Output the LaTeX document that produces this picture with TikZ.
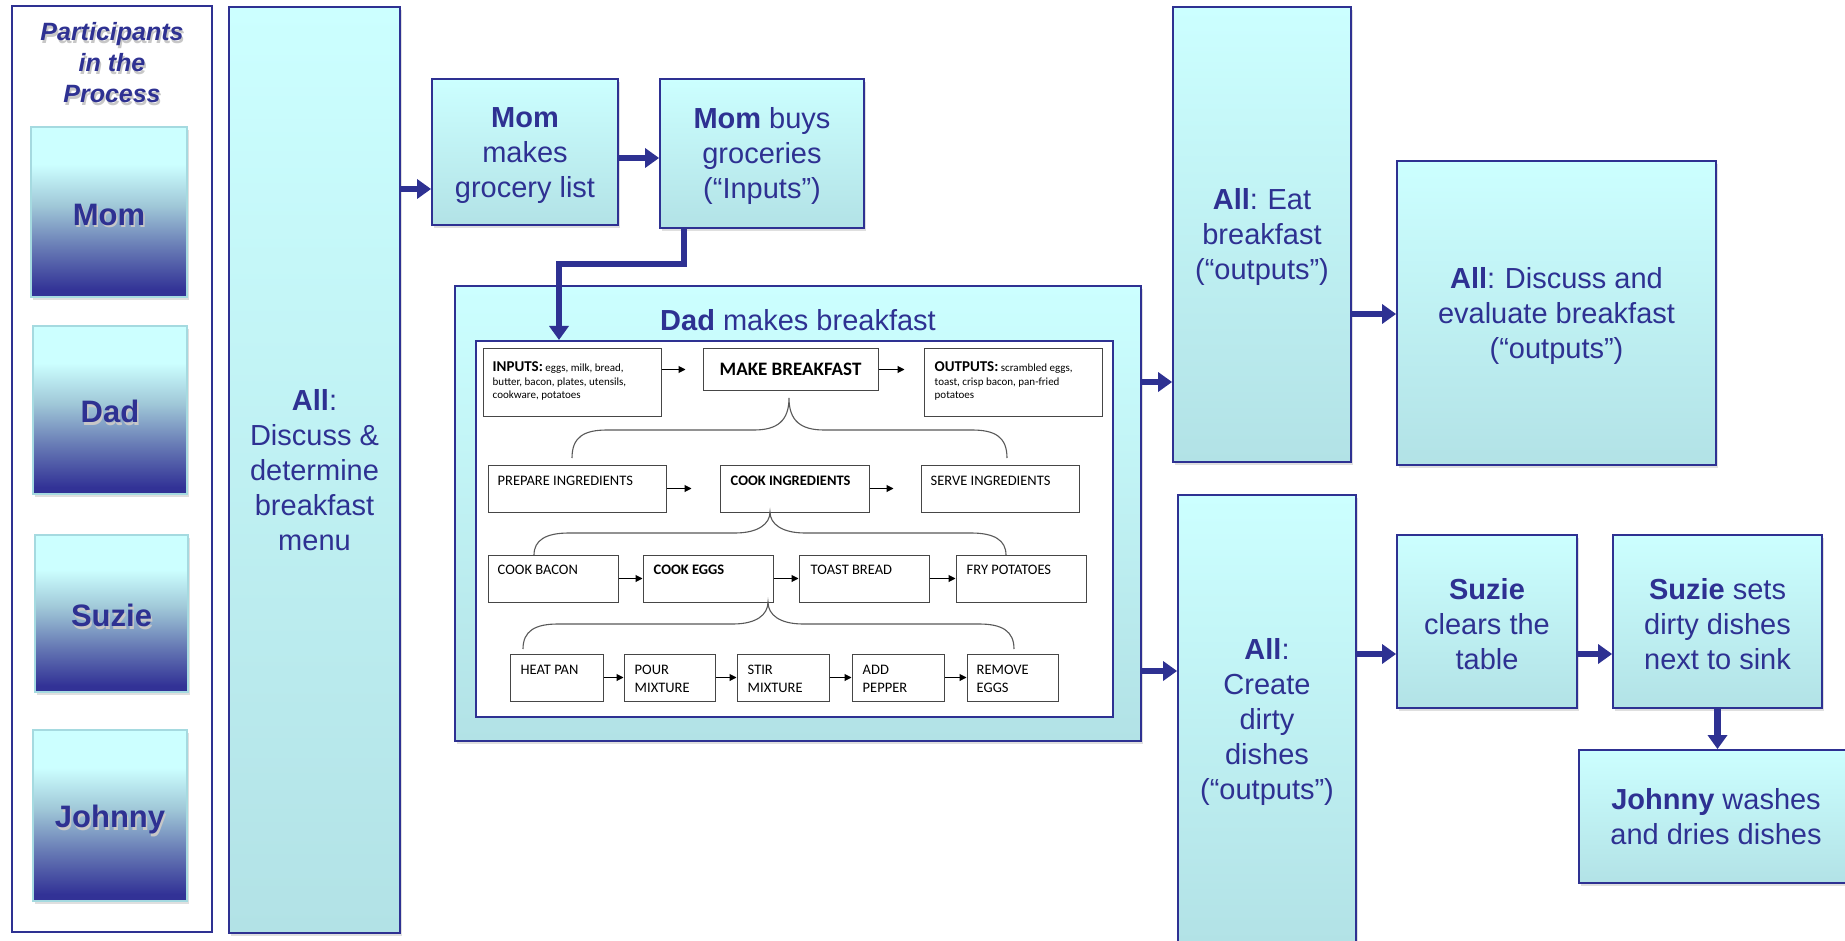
\documentclass[tikz,border=0pt]{standalone}
\usepackage{fontspec}
\newfontfamily\arialfont{Liberation Sans}
\newfontfamily\califont{Carlito}
\usetikzlibrary{arrows.meta,shadows,calc}
\definecolor{navy}{RGB}{46,49,146}
\definecolor{cytop}{RGB}{204,255,255}
\definecolor{cybot}{RGB}{178,226,230}
\definecolor{pmid}{RGB}{160,200,216}
\definecolor{pmidb}{RGB}{105,125,182}
\definecolor{pdark}{RGB}{50,50,150}
\definecolor{pborder}{RGB}{165,218,224}
\definecolor{innerline}{RGB}{70,70,70}
\pgfdeclareverticalshading{pshade}{100bp}{color(0bp)=(pdark); color(27bp)=(pdark); color(40bp)=(pmidb); color(52bp)=(pmid); color(64bp)=(cytop); color(100bp)=(cytop)}
\newcommand\shd[1]{\leavevmode\rlap{\kern1.5pt\raisebox{-2.5pt}{\textcolor{black!22}{#1}}}#1}
\newcommand\tp[1][27pt]{\rule{0pt}{#1}}
\newcommand\curlyb[6]{%
  \draw[brc] (#4,#6) .. controls (#4,{#3+7}) and ({#4+12},#3) .. ({#4+35},#3)
    -- ({#1-35},#3) .. controls ({#1-12},#3) and (#1,{#3-9}) .. (#1,#2)
    .. controls (#1,{#3-9}) and ({#1+12},#3) .. ({#1+35},#3)
    -- ({#5-35},#3) .. controls ({#5-12},#3) and (#5,{#3+7}) .. (#5,#6);}
\tikzset{
  cbox/.style={draw=navy, line width=1.8pt, top color=cytop, bottom color=cybot,
    text=navy, align=center, font=\arialfont\fontsize{29}{35}\selectfont, inner sep=0pt,
    drop shadow={opacity=0.25, shadow xshift=2pt, shadow yshift=-3pt}},
  pbox/.style={draw=pborder, line width=1.5pt, shade, shading=pshade, text=navy,
    font=\arialfont\bfseries\fontsize{31}{37}\selectfont, inner sep=0pt,
    drop shadow={opacity=0.25, shadow xshift=2pt, shadow yshift=-3pt}},
  bigarrow/.style={draw=navy, line width=6.5pt, -{Triangle[length=14pt,width=19pt]}},
  ibox/.style={draw=innerline, line width=1pt, fill=white, inner sep=0pt},
  ilab/.style={anchor=north west, inner sep=0pt, align=left, font=\califont\fontsize{14.5}{18}\selectfont},
  iarrow/.style={draw=black, line width=1pt, -{Triangle[length=7pt,width=7pt]}},
  brc/.style={draw=black!65, line width=1.1pt},
}
\begin{document}
\begin{tikzpicture}[x=1pt,y=-1pt]
\useasboundingbox (0,0) rectangle (1845,941);
% participants column
\node[draw=navy, line width=1.5pt, fill=white, minimum width=200pt, minimum height=926pt, inner sep=0pt] (parts) at (112,469) {};
\node[text=navy, align=center, font=\arialfont\bfseries\itshape\fontsize{25}{31}\selectfont] (ptitle) at (112,64) {\shd{Participants}\\\shd{in the}\\\shd{Process}};
\node[pbox, minimum width=156pt, minimum height=170pt] (pmom) at (109,212) {\tp[29pt]\shd{Mom}};
\node[pbox, minimum width=154pt, minimum height=168pt] (pdad) at (110,410) {\tp[28pt]\shd{Dad}};
\node[pbox, minimum width=153pt, minimum height=157pt] (psuzie) at (111.5,613.5) {\tp[29pt]\shd{Suzie}};
\node[pbox, minimum width=154pt, minimum height=171pt] (pjohnny) at (110,815.5) {\tp[33pt]\shd{Johnny}};
% main boxes
\node[cbox, minimum width=171pt, minimum height=926pt] (all) at (314.5,470) {\textbf{All}:\\Discuss \&\\determine\\breakfast\\menu};
\node[cbox, minimum width=186pt, minimum height=146pt] (mk) at (525,152) {\tp\textbf{Mom}\\makes\\grocery list};
\node[cbox, minimum width=204pt, minimum height=149pt] (buy) at (762,153.5) {\tp\textbf{Mom} buys\\groceries\\(“Inputs”)};
\node[cbox, minimum width=686pt, minimum height=455pt] (dadbox) at (798,513.5) {};
\node[text=navy, font=\arialfont\fontsize{29}{35}\selectfont, inner sep=0pt] (dadt) at (798,320) {\textbf{Dad} makes breakfast};
\node[draw=navy, line width=2pt, fill=white, minimum width=637pt, minimum height=376pt, inner sep=0pt] (inner) at (794.5,529) {};
\node[cbox, minimum width=178pt, minimum height=455pt] (eat) at (1262,234.5) {\tp\textbf{All}:\,\,Eat\\breakfast\\(“outputs”)};
\node[cbox, minimum width=319pt, minimum height=304pt] (disc) at (1556.5,313) {\tp\textbf{All}:\,\,Discuss and\\evaluate breakfast\\(“outputs”)};
\node[cbox, minimum width=178pt, minimum height=448pt] (create) at (1267,719) {\tp[28pt]\textbf{All}:\\Create\\dirty\\dishes\\(“outputs”)};
\node[cbox, minimum width=180pt, minimum height=173pt] (sc) at (1487,621.5) {\tp\textbf{Suzie}\\clears the\\table};
\node[cbox, minimum width=209pt, minimum height=173pt] (ss) at (1717.5,621.5) {\tp\textbf{Suzie} sets\\dirty dishes\\next to sink};
\node[cbox, minimum width=274pt, minimum height=133pt] (jw) at (1716,816.5) {\textbf{Johnny} washes\\and dries dishes};
% inner diagram boxes
\node[ibox, minimum width=178pt, minimum height=67pt] (inputs) at (572,382.5) {};
\node[ibox, minimum width=175pt, minimum height=41pt, font=\califont\bfseries\fontsize{19}{22}\selectfont] (mb) at (790.5,369.5) {MAKE BREAKFAST};
\node[ibox, minimum width=178pt, minimum height=67pt] (outputs) at (1013,382.5) {};
\node[ibox, minimum width=178pt, minimum height=47pt] (prep) at (577,488.5) {};
\node[ibox, minimum width=149pt, minimum height=47pt] (cook) at (794.5,488.5) {};
\node[ibox, minimum width=158pt, minimum height=47pt] (serve) at (1000,488.5) {};
\node[ibox, minimum width=130pt, minimum height=47pt] (bacon) at (553,578.5) {};
\node[ibox, minimum width=130pt, minimum height=47pt] (eggs) at (708,578.5) {};
\node[ibox, minimum width=130pt, minimum height=47pt] (toast) at (864,578.5) {};
\node[ibox, minimum width=130pt, minimum height=47pt] (fry) at (1021,578.5) {};
\node[ibox, minimum width=93pt, minimum height=47pt] (heat) at (556.5,677.5) {};
\node[ibox, minimum width=91pt, minimum height=47pt] (pour) at (669.5,677.5) {};
\node[ibox, minimum width=92pt, minimum height=47pt] (stir) at (783,677.5) {};
\node[ibox, minimum width=92pt, minimum height=47pt] (add) at (898,677.5) {};
\node[ibox, minimum width=91pt, minimum height=47pt] (remove) at (1012.5,677.5) {};
% inner labels
\node[ilab, font=\califont\fontsize{11}{13.5}\selectfont] (inputsL) at ([shift={(10,13)}]inputs.north west) {{\bfseries\fontsize{15}{13.5}\selectfont INPUTS:} eggs, milk, bread,\\butter, bacon, plates, utensils,\\cookware, potatoes};
\node[ilab, font=\califont\fontsize{11}{13.5}\selectfont] (outputsL) at ([shift={(11,13)}]outputs.north west) {{\bfseries\fontsize{15}{13.5}\selectfont OUTPUTS:} scrambled eggs,\\toast, crisp bacon, pan-fried\\potatoes};
\node[ilab] (prepL) at ([shift={(10,11)}]prep.north west) {PREPARE INGREDIENTS};
\node[ilab, font=\califont\bfseries\fontsize{14.5}{18}\selectfont] (cookL) at ([shift={(11,11)}]cook.north west) {COOK INGREDIENTS};
\node[ilab] (serveL) at ([shift={(10,11)}]serve.north west) {SERVE INGREDIENTS};
\node[ilab] (baconL) at ([shift={(10,10)}]bacon.north west) {COOK BACON};
\node[ilab, font=\califont\bfseries\fontsize{14.5}{18}\selectfont] (eggsL) at ([shift={(11,10)}]eggs.north west) {COOK EGGS};
\node[ilab] (toastL) at ([shift={(12,10)}]toast.north west) {TOAST BREAD};
\node[ilab] (fryL) at ([shift={(11,10)}]fry.north west) {FRY POTATOES};
\node[ilab] (heatL) at ([shift={(11,11)}]heat.north west) {HEAT PAN};
\node[ilab] (pourL) at ([shift={(11,11)}]pour.north west) {POUR\\MIXTURE};
\node[ilab] (stirL) at ([shift={(11,11)}]stir.north west) {STIR\\MIXTURE};
\node[ilab] (addL) at ([shift={(11,11)}]add.north west) {ADD\\PEPPER};
\node[ilab] (removeL) at ([shift={(10,11)}]remove.north west) {REMOVE\\EGGS};
% inner arrows
\draw[iarrow, shorten >=17pt] (inputs.east |- mb.west) -- (mb.west);
\draw[iarrow, shorten >=19pt] (mb.east) -- (outputs.west |- mb.east);
\draw[iarrow, shorten >=28pt] (prep.east) -- (cook.west);
\draw[iarrow, shorten >=27pt] (cook.east) -- (serve.west);
\draw[iarrow] (bacon.east) -- (eggs.west);
\draw[iarrow] (eggs.east) -- (toast.west);
\draw[iarrow] (toast.east) -- (fry.west);
\draw[iarrow] (heat.east) -- (pour.west);
\draw[iarrow] (pour.east) -- (stir.west);
\draw[iarrow] (stir.east) -- (add.west);
\draw[iarrow] (add.east) -- (remove.west);
% braces
\curlyb{789}{398}{430}{572}{1007}{458}
\curlyb{770}{512}{533}{534}{1006}{555}
\curlyb{768}{602}{624}{523}{1014}{649}
% big arrows
\coordinate (yA) at (0,189);
\coordinate (yB) at (0,158);
\coordinate (e1) at (684,264);
\coordinate (e2) at (559,264);
\coordinate (yC) at (0,382);
\coordinate (yD) at (0,671);
\coordinate (yE) at (0,314);
\coordinate (yF) at (0,654);
\draw[bigarrow] (all.east |- yA) -- (mk.west |- yA);
\draw[bigarrow] (mk.east |- yB) -- (buy.west |- yB);
\draw[bigarrow] (buy.south -| e1) -- (e1) -- (e2) -- (e2 |- inner.north);
\draw[bigarrow] (dadbox.east |- yC) -- (eat.west |- yC);
\draw[bigarrow] (dadbox.east |- yD) -- (create.west |- yD);
\draw[bigarrow] (eat.east |- yE) -- (disc.west |- yE);
\draw[bigarrow] (create.east |- yF) -- (sc.west |- yF);
\draw[bigarrow] (sc.east |- yF) -- (ss.west |- yF);
\draw[bigarrow] (ss.south) -- (ss.south |- jw.north);
\end{tikzpicture}
\end{document}
